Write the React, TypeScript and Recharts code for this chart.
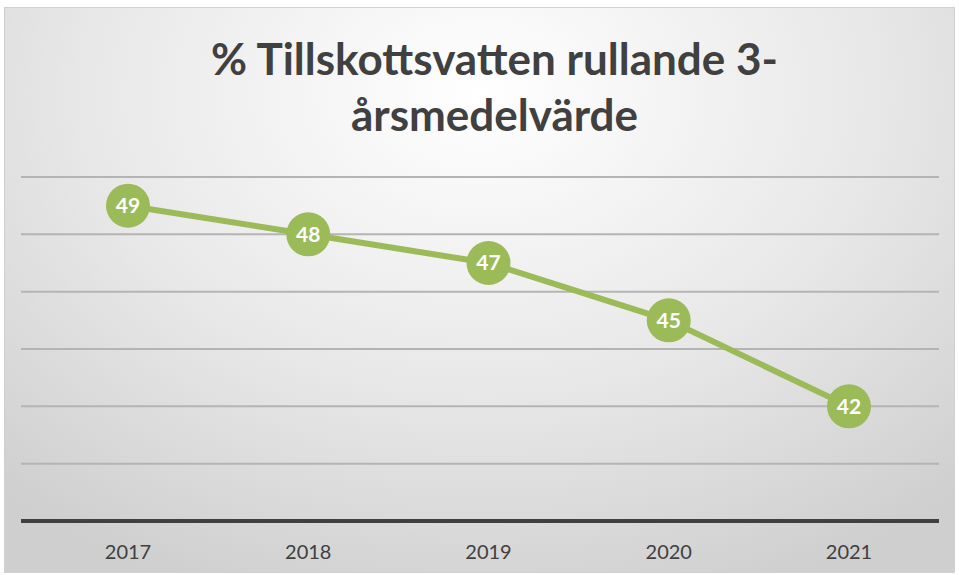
import React from 'react';
import { LineChart, Line, XAxis, YAxis, CartesianGrid, LabelList } from 'recharts';

// Data
const years = ['2017', '2018', '2019', '2020', '2021'];
const values = [49, 48, 47, 45, 42];
const yTicks = [38, 40, 42, 44, 46, 48, 50];

const data = years.map((year, i) => ({ year, value: values[i] }));

const GREEN = '#9BBB59';
const TEXT = '#404040';
const FONT = 'Lato, "Open Sans", sans-serif';

const Dot = (props: any) => {
  const { cx, cy } = props;
  if (cx == null || cy == null) return null;
  return <circle cx={cx} cy={cy} r={22} fill={GREEN} />;
};

const App = () => {
  return (
    <div style={{ position: 'fixed', left: 0, top: 0, width: 959, height: 575, background: '#fff' }}>
      <div
        style={{
          position: 'absolute',
          left: 4,
          top: 7,
          width: 949,
          height: 564,
          border: '1px solid #d0d0d0',
          background: 'radial-gradient(ellipse 75% 95% at 50% 15%, #ffffff 0%, #e8e8e8 55%, #cfcfcf 100%)',
        }}
      />
      <div
        style={{
          position: 'absolute',
          left: 0,
          top: 30,
          width: 989,
          textAlign: 'center',
          fontFamily: FONT,
          fontWeight: 700,
          fontSize: 44,
          lineHeight: '56px',
          color: TEXT,
        }}
      >
        % Tillskottsvatten rullande 3-
        <br />
        årsmedelvärde
      </div>
      <div style={{ position: 'absolute', left: 0, top: 0 }}>
        <LineChart width={959} height={575} data={data} margin={{ top: 177, right: 20, bottom: 0, left: 21 }}>
          <CartesianGrid vertical={false} stroke="#b4b4b4" strokeWidth={2} />
          <XAxis
            dataKey="year"
            height={54}
            padding={{ left: 107, right: 90 }}
            axisLine={{ stroke: TEXT, strokeWidth: 4 }}
            tickLine={false}
            tickSize={0}
            tickMargin={24}
            tick={{ fill: TEXT, fontSize: 20, fontFamily: FONT }}
          />
          <YAxis hide domain={[38, 50]} ticks={yTicks} />
          <Line
            type="linear"
            dataKey="value"
            stroke={GREEN}
            strokeWidth={6}
            dot={<Dot />}
            activeDot={false}
            isAnimationActive={false}
          >
            <LabelList
              dataKey="value"
              position="center"
              fill="#ffffff"
              style={{ fontSize: 21, fontWeight: 700, fontFamily: FONT }}
            />
          </Line>
        </LineChart>
      </div>
    </div>
  );
};

export default App;
